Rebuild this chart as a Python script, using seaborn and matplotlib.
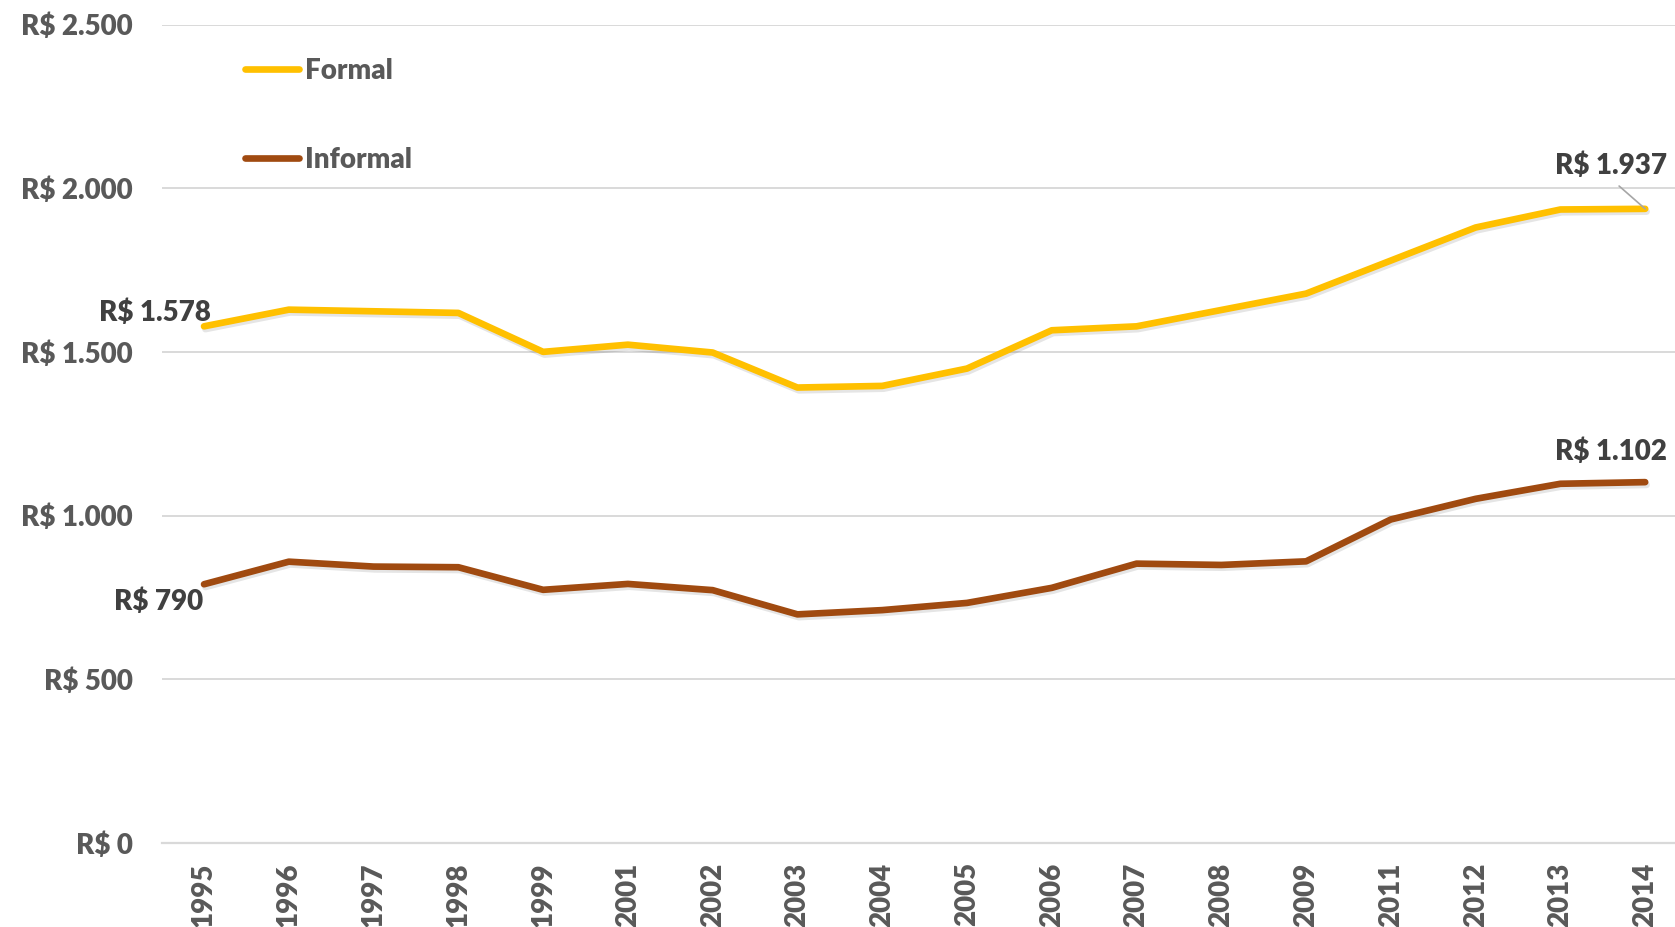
import matplotlib
matplotlib.use("Agg")
import matplotlib.pyplot as plt
import matplotlib.patheffects as pe
from matplotlib.lines import Line2D
import seaborn as sns
import pandas as pd

# Rendimento médio mensal: trabalhadores formais x informais
anos = ["1995", "1996", "1997", "1998", "1999", "2001", "2002", "2003", "2004",
        "2005", "2006", "2007", "2008", "2009", "2011", "2012", "2013", "2014"]
formal = [1578, 1629, 1624, 1619, 1500, 1522, 1498, 1391, 1396,
          1449, 1566, 1578, 1628, 1678, 1779, 1880, 1935, 1937]
informal = [790, 859, 844, 842, 773, 791, 772, 698, 711,
            733, 779, 853, 849, 860, 988, 1051, 1097, 1102]
series_names = ["Formal", "Informal"]
series_colors = ["#FFC000", "#A04A10"]
y_ticks = [0, 500, 1000, 1500, 2000, 2500]


def brl(v):
    return "R$ " + f"{v:,.0f}".replace(",", ".")


df = pd.DataFrame({
    "ano": anos * 2,
    "valor": formal + informal,
    "serie": [series_names[0]] * len(anos) + [series_names[1]] * len(anos),
})

sns.set_theme(style="white")
plt.rcParams["font.family"] = ["Lato", "DejaVu Sans"]
plt.rcParams["font.weight"] = "bold"

FS = 20
LW = 4.8

fig = plt.figure(figsize=(16.75, 9.27), dpi=100)
ax = fig.add_axes([0.0965, 0.0908, 0.911, 0.8827])

sns.lineplot(data=df, x="ano", y="valor", hue="serie", palette=series_colors,
             hue_order=series_names, linewidth=LW, sort=False, legend=False,
             ax=ax)

shadow = [pe.SimpleLineShadow(offset=(1.0, -2.0), shadow_color="#000000", alpha=0.10),
          pe.Normal()]
for ln in ax.get_lines():
    ln.set_solid_capstyle("round")
    ln.set_solid_joinstyle("round")
    ln.set_path_effects(shadow)

ax.set_xlim(-0.5, len(anos) - 0.5)
ax.set_ylim(0, 2500)
ax.set_yticks(y_ticks)
ax.set_yticklabels([brl(v) for v in y_ticks])
ax.set_xlabel("")
ax.set_ylabel("")

ax.grid(axis="y", color="#D9D9D9", linewidth=1.4)
ax.grid(axis="x", visible=False)
ax.set_axisbelow(True)
for side in ["top", "right", "left"]:
    ax.spines[side].set_visible(False)
ax.spines["bottom"].set_color("#D9D9D9")
ax.spines["bottom"].set_linewidth(1.6)

ax.tick_params(axis="y", length=0, pad=21, labelsize=FS, labelcolor="#595959")
ax.tick_params(axis="x", length=0, pad=14, labelsize=FS, labelcolor="#595959",
               labelrotation=90)
for lab in ax.get_xticklabels() + ax.get_yticklabels():
    lab.set_fontweight("heavy")
for lab in ax.get_xticklabels():
    lab.set_va("top")

# Legend
handles = [Line2D([0], [0], color=c, linewidth=LW, solid_capstyle="round")
           for c in series_colors]
leg = ax.legend(handles, series_names, loc="upper left",
                bbox_to_anchor=(220 / 1675, 1 - 33 / 927),
                bbox_transform=fig.transFigure, frameon=False,
                handlelength=1.95, handletextpad=0.2, labelspacing=2.25,
                prop={"size": FS, "weight": "heavy"})
for t in leg.get_texts():
    t.set_color("#595959")

# Value labels at the ends of each series
ann_style = dict(textcoords="offset pixels", ha="center", va="center",
                 fontsize=FS, fontweight="heavy", color="#404040")
last = len(anos) - 1
ax.annotate(brl(formal[0]), xy=(0, formal[0]), xytext=(-49, 14), **ann_style)
ax.annotate(brl(informal[0]), xy=(0, informal[0]), xytext=(-45, -17), **ann_style)
ax.annotate(brl(formal[last]), xy=(last, formal[last]), xytext=(-34, 43),
            arrowprops=dict(arrowstyle="-", color="#A6A6A6", lw=1.2,
                            shrinkA=4, shrinkB=0, relpos=(0.5, 0.0)),
            **ann_style)
ax.annotate(brl(informal[last]), xy=(last, informal[last]), xytext=(-34, 30),
            **ann_style)

fig.savefig("out.png", dpi=100)
